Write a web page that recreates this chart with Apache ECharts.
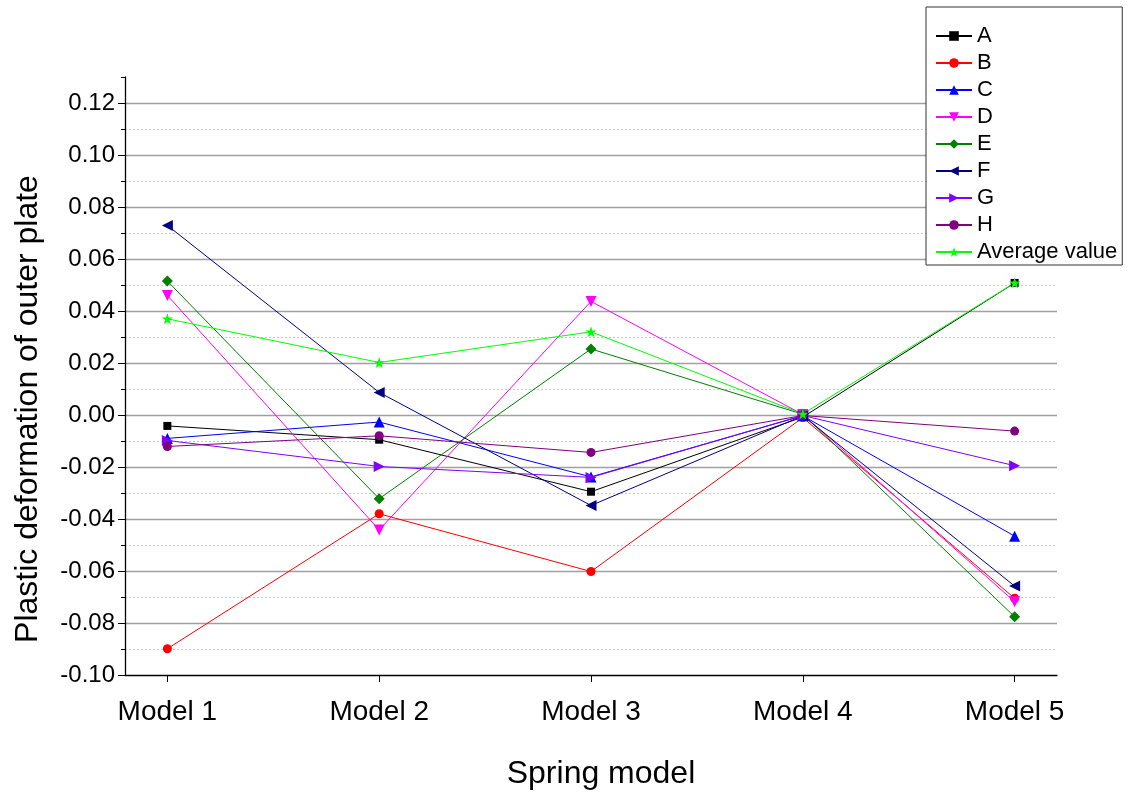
<!DOCTYPE html>
<html>
<head>
<meta charset="utf-8">
<script src="https://cdn.jsdelivr.net/npm/echarts@6/dist/echarts.min.js"></script>
<style>
  html, body { margin: 0; padding: 0; background: #fff; }
  #chart { width: 1130px; height: 794px; }
</style>
</head>
<body>
<div id="chart"></div>
<script>
// Spring models along the x axis
const categories = ['Model 1', 'Model 2', 'Model 3', 'Model 4', 'Model 5'];

// Plastic deformation of the outer plate for each case
const seriesA   = [-0.0042, -0.0095, -0.0295, -0.0008,  0.0508];
const seriesB   = [-0.0899, -0.0380, -0.0602, -0.0010, -0.0705];
const seriesC   = [-0.0090, -0.0027, -0.0238, -0.0003, -0.0466];
const seriesD   = [ 0.0460, -0.0442,  0.0437,  0.0002, -0.0718];
const seriesE   = [ 0.0515, -0.0322,  0.0254,  0.0003, -0.0776];
const seriesF   = [ 0.0729,  0.0087, -0.0348, -0.0003, -0.0658];
const seriesG   = [-0.0098, -0.0198, -0.0240, -0.0002, -0.0195];
const seriesH   = [-0.0121, -0.0080, -0.0144, -0.0002, -0.0062];
const seriesAvg = [ 0.0370,  0.0202,  0.0320,  0.0004,  0.0508];

// y axis range and tick step
const yMin = -0.10;
const yMax = 0.13;
const yStep = 0.02;
const yMinorStep = 0.01;

const STAR = 'path://M50,0 L61.8,35.1 L98.9,35.1 L69.1,56.7 L80.3,91.9 L50,70.3 L19.7,91.9 L30.9,56.7 L0.9,35.1 L38.2,35.1 Z';

const FONT = '"Liberation Sans", Arial, sans-serif';

const defs = [
  { name: 'A', data: seriesA, color: '#000000', symbol: 'rect', size: 8, rotate: 0 },
  { name: 'B', data: seriesB, color: '#ff0000', symbol: 'circle', size: 9, rotate: 0 },
  { name: 'C', data: seriesC, color: '#0000ff', symbol: 'triangle', size: 11, rotate: 0 },
  { name: 'D', data: seriesD, color: '#ff00ff', symbol: 'triangle', size: 11, rotate: 180 },
  { name: 'E', data: seriesE, color: '#008000', symbol: 'diamond', size: 11, rotate: 0 },
  { name: 'F', data: seriesF, color: '#000080', symbol: 'triangle', size: 11, rotate: 90 },
  { name: 'G', data: seriesG, color: '#8000ff', symbol: 'triangle', size: 11, rotate: -90 },
  { name: 'H', data: seriesH, color: '#800080', symbol: 'circle', size: 9, rotate: 0 },
  { name: 'Average value', data: seriesAvg, color: '#00ff00', symbol: STAR, size: 11, rotate: 0 }
];

const positions = categories.map((c, i) => i + 1);

const series = defs.map(d => ({
  name: d.name,
  type: 'line',
  data: d.data.map((v, i) => [positions[i], v]),
  symbol: d.symbol,
  symbolSize: d.size,
  symbolRotate: d.rotate,
  showAllSymbol: true,
  animation: false,
  lineStyle: { color: d.color, width: 1 },
  itemStyle: { color: d.color },
  emphasis: { disabled: true }
}));

const chart = echarts.init(document.getElementById('chart'), null, { renderer: 'canvas' });

chart.setOption({
  animation: false,
  backgroundColor: '#ffffff',
  grid: { left: 125, right: 73, top: 77, bottom: 119, containLabel: false },
  xAxis: {
    type: 'value',
    min: 0.8,
    max: 5.2,
    axisLine: { show: true, onZero: false, lineStyle: { color: '#000', width: 1.3 } },
    axisTick: { show: true, customValues: positions, length: 7, inside: false, lineStyle: { color: '#000' } },
    axisLabel: {
      customValues: positions,
      formatter: v => categories[Math.round(v) - 1] || '',
      color: '#000', fontSize: 28, fontFamily: FONT, margin: 23
    },
    splitLine: { show: false }
  },
  yAxis: [
    {
      type: 'value',
      min: yMin,
      max: yMax,
      interval: yStep,
      z: 3,
      axisLine: { show: true, onZero: false, lineStyle: { color: '#000', width: 1.3 } },
      axisTick: { show: true, length: 7, lineStyle: { color: '#000' } },
      axisLabel: {
        showMaxLabel: false,
        formatter: v => (Math.abs(v) < 1e-9 ? 0 : v).toFixed(2),
        color: '#000', fontSize: 24, fontFamily: FONT, margin: 10
      },
      splitLine: { show: true, showMinLine: false, showMaxLine: false, lineStyle: { color: '#a0a0a0', width: 1.3 } }
    },
    {
      type: 'value',
      position: 'left',
      min: yMin,
      max: yMax,
      interval: yMinorStep,
      z: 1,
      axisLine: { show: false },
      axisTick: { show: true, length: 4, lineStyle: { color: '#000' } },
      axisLabel: { show: false },
      splitLine: { show: true, showMinLine: false, showMaxLine: false, lineStyle: { color: '#c8c8c8', width: 1, type: [2, 2] } }
    }
  ],
  legend: {
    orient: 'vertical',
    left: 926,
    top: 7,
    padding: [18, 5, 2, 9],
    itemWidth: 36,
    itemHeight: 12,
    itemGap: 5,
    backgroundColor: '#fff',
    borderColor: '#333',
    borderWidth: 1,
    textStyle: { color: '#000', fontSize: 22, fontFamily: FONT, lineHeight: 21 },
    data: defs.map(d => d.name)
  },
  graphic: [
    {
      type: 'text',
      x: 28, y: 409,
      rotation: Math.PI / 2,
      style: {
        text: 'Plastic deformation of outer plate',
        font: '32px ' + FONT,
        fill: '#000',
        align: 'center',
        verticalAlign: 'middle'
      }
    },
    {
      type: 'text',
      x: 601, y: 774,
      style: {
        text: 'Spring model',
        font: '32px ' + FONT,
        fill: '#000',
        align: 'center',
        verticalAlign: 'middle'
      }
    }
  ],
  series: series
});
</script>
</body>
</html>
